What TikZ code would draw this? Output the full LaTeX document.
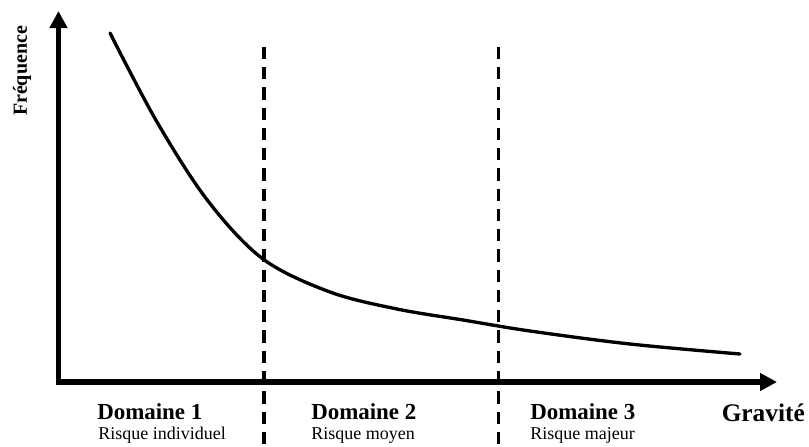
\documentclass[tikz,border=0pt]{standalone}
\usepackage{fontspec}
\setmainfont{Liberation Serif}
\usetikzlibrary{arrows.meta}
\begin{document}
\begin{tikzpicture}[x=0.75pt,y=-0.75pt,
  axis/.style={line width=4.1pt, line join=miter,
    {Triangle[length=12.75pt,width=12.75pt]}-{Triangle[length=12.75pt,width=12.75pt]}},
  divider/.style={line width=2.5pt, dash pattern=on 9.2pt off 6pt},
  curve/.style={line width=2.5pt, line cap=round},
  axislabel/.style={inner sep=0pt, font=\bfseries\fontsize{15}{17}\selectfont},
  domaine/.style={inner sep=0pt, anchor=base west, font=\bfseries\fontsize{17.2}{19}\selectfont},
  risque/.style={inner sep=0pt, anchor=base west, font=\fontsize{13.5}{15}\selectfont}]
\useasboundingbox (0,0) rectangle (809,446);

% axes
\coordinate (ytip) at (58.5,11);
\coordinate (origin) at (58.5,382);
\coordinate (xtip) at (777,382);
\draw[axis] (ytip) -- (origin) -- (xtip);

% domain boundaries
\coordinate (d1top) at (264,46.7);
\coordinate (d1bot) at (264,445);
\coordinate (d2top) at (498.5,46.7);
\coordinate (d2bot) at (498.5,445);
\draw[divider] (d1top) -- (d1bot);
\draw[divider] (d2top) -- (d2bot);

% frequency / severity curve
\draw[curve] plot[smooth, tension=0.55] coordinates {
  (110,33) (157,122) (208,201) (263,259) (330,292)
  (397,309) (463,320) (530,331) (630,344) (740,354)};

% axis labels
\node[axislabel, rotate=90] (freq) at (22,71) {Fréquence};
\node[inner sep=0pt, anchor=base west, font=\bfseries\fontsize{19}{21}\selectfont] (grav) at (721.5,421) {Gravité};

% domain labels
\node[domaine] (dom1) at (97,419) {Domaine 1};
\node[risque]  (ris1) at (98,439) {Risque individuel};
\node[domaine] (dom2) at (311,419) {Domaine 2};
\node[risque]  (ris2) at (311,439) {Risque moyen};
\node[domaine] (dom3) at (530,419) {Domaine 3};
\node[risque]  (ris3) at (530,439) {Risque majeur};
\end{tikzpicture}
\end{document}
